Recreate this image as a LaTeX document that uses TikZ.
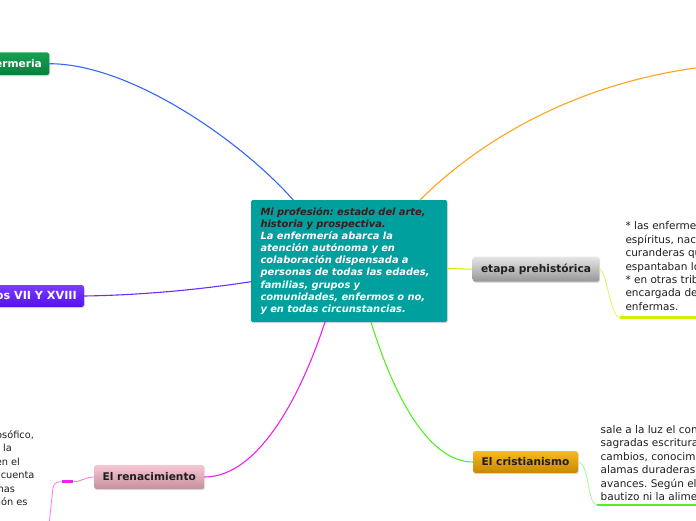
\documentclass[tikz,border=0pt]{standalone}
\usepackage{fontspec}
\setmainfont{DejaVu Sans}
\usetikzlibrary{shadows}
\frenchspacing
\definecolor{tealbox}{HTML}{00A09E}
\definecolor{darktxt}{HTML}{3B1E18}
\definecolor{cblue}{HTML}{3366FF}
\definecolor{corange}{HTML}{FFA31A}
\definecolor{cyellow}{HTML}{D4F000}
\definecolor{cyellowl}{HTML}{E6F060}
\definecolor{cpurple}{HTML}{6E2BFF}
\definecolor{cmagenta}{HTML}{F020F0}
\definecolor{cmagental}{HTML}{FF70FF}
\definecolor{cgreen}{HTML}{55EE22}
\definecolor{cgreenl}{HTML}{99FF88}
\definecolor{txtgray}{HTML}{1E1E1E}
\begin{document}
\begin{tikzpicture}[x=1pt,y=-1pt,
  every node/.style={inner sep=0pt, outer sep=0pt},
  topic/.style={rounded corners=2.5pt, inner xsep=7.5pt,
    font=\fontsize{10.6}{12}\selectfont\bfseries,
    drop shadow={opacity=0.25, shadow xshift=0.8pt, shadow yshift=-1.2pt}},
  centerbox/.style={fill=tealbox, rounded corners=1.5pt, anchor=north west,
    minimum width=195pt, minimum height=122pt, text width=177pt, align=left,
    inner xsep=9.5pt, text=white,
    font=\fontsize{9.9}{12.1}\selectfont\bfseries\itshape,
    drop shadow={opacity=0.25, shadow xshift=0.8pt, shadow yshift=-1.2pt}},
  childtext/.style={font=\fontsize{10.5}{13.4}\selectfont, text=txtgray, align=left},
  conn/.style={line width=1.1pt},
  thin/.style={line width=0.8pt},
  uline/.style={line width=2.6pt}
]
\useasboundingbox (0,0) rectangle (696,520);

\coordinate (cpos) at (251,200);
\node[topic, anchor=east, minimum height=22.7pt, text=white,
  top color={rgb,255:red,22;green,162;blue,82}, bottom color={rgb,255:red,10;green,126;blue,62}] (en) at (49.3,63.7) {Enfermeria};
\node[topic, anchor=east, minimum height=22pt, inner xsep=7.2pt, font=\fontsize{11.2}{12}\selectfont\bfseries,
  top color={rgb,255:red,124;green,60;blue,255}, bottom color={rgb,255:red,84;green,16;blue,236}, text=white] (pu) at (84,296) {Siglos VII Y XVIII};
\node[topic, minimum width=126.6pt, minimum height=25pt, top color={rgb,255:red,230;green,230;blue,230}, bottom color={rgb,255:red,150;green,150;blue,150}, text=txtgray] (et) at (536,269.2) {etapa prehistórica};
\node[topic, minimum width=105pt, minimum height=22pt, top color={rgb,255:red,250;green,184;blue,34}, bottom color={rgb,255:red,198;green,136;blue,0}, text=txtgray] (cr) at (525.5,462) {El cristianismo};
\node[topic, minimum width=110.3pt, minimum height=24pt, top color={rgb,255:red,247;green,198;blue,212}, bottom color={rgb,255:red,198;green,144;blue,158}, text=txtgray] (re) at (149.2,477) {El renacimiento};

\node[centerbox] (c) at (cpos) {%
\textcolor{darktxt}{Mi profesión: estado del arte,}\\
\textcolor{darktxt}{historia y prospectiva.}\\
La enfermería abarca la\\
atención autónoma y en\\
colaboración dispensada a\\
personas de todas las edades,\\
familias, grupos y\\
comunidades, enfermos o no,\\
y en todas circunstancias.};

\coordinate (o) at (712,66);

\draw[conn, cblue] (en.east) .. controls (130,63.7) and (240,140) .. ([xshift=42.3pt]c.north west);
\draw[conn, corange] ([xshift=169pt]c.north west) .. controls (480,140) and (580,80) .. (o);
\draw[conn, cyellow] ([yshift=-7.3pt]c.east) .. controls (458,268.5) and (462,269.2) .. (et.west);
\draw[conn, cpurple] ([yshift=-20.7pt]c.west) .. controls (210,288) and (150,295) .. (pu.east);
\draw[conn, cmagenta] ([xshift=74pt]c.south west) .. controls (302,392) and (260,477) .. (re.east);
\draw[conn, cgreen] ([xshift=120pt]c.south west) .. controls (395,400) and (430,462) .. (cr.west);

% etapa prehistórica child
\coordinate (etu) at (620,317.5);
\coordinate (etr) at (700,317.5);
\draw[thin, cyellowl] (et.east) .. controls (607,270) and (610,317.5) .. (etu);
\draw[uline, cyellow] (etu) -- (etr);
\node[childtext, anchor=north west] (ett) at (625.5,222) {%
* las enfermedades\\
espíritus, nacen\\
curanderas que\\
espantaban los\\
* en otras tribus\\
encargada de\\
enfermas.};

% cristianismo child
\coordinate (cru) at (597,505);
\coordinate (crr) at (700,505);
\draw[thin, cgreenl] (cr.east) .. controls (590,464) and (587,505) .. (cru);
\draw[uline, cgreen] (cru) -- (crr);
\node[childtext, anchor=north west] (crt) at (600.7,425.5) {%
sale a la luz el conocimiento\\
sagradas escrituras\\
cambios, conocimientos\\
alamas duraderas\\
avances. Según el\\
bautizo ni la alimentación};

% renacimiento child
\coordinate (m1) at (73,481.7);
\coordinate (m2) at (62,481.7);
\coordinate (rl) at (48.5,530);
\draw[thin, cmagental] (re.west) .. controls (85,477) and (82,481.7) .. (m1);
\draw[uline, cmagenta] (m1) -- (m2);
\draw[thin, cmagental] (m2) .. controls (54,481.7) and (53,485) .. (52.5,492) -- (rl);
\begin{scope}[every node/.style={childtext, font=\fontsize{9.8}{13.4}\selectfont, anchor=base east}]
\node (r1) at (37.5,438.5) {filosófico,};
\node (r2) at (15.5,451.9) {de la};
\node (r3) at (23.5,465.3) {en el};
\node (r4) at (38,478.7) {en cuenta};
\node (r5) at (18.5,492.1) {formas};
\node (r6) at (31,505.5) {atención es};
\end{scope}
\end{tikzpicture}
\end{document}
